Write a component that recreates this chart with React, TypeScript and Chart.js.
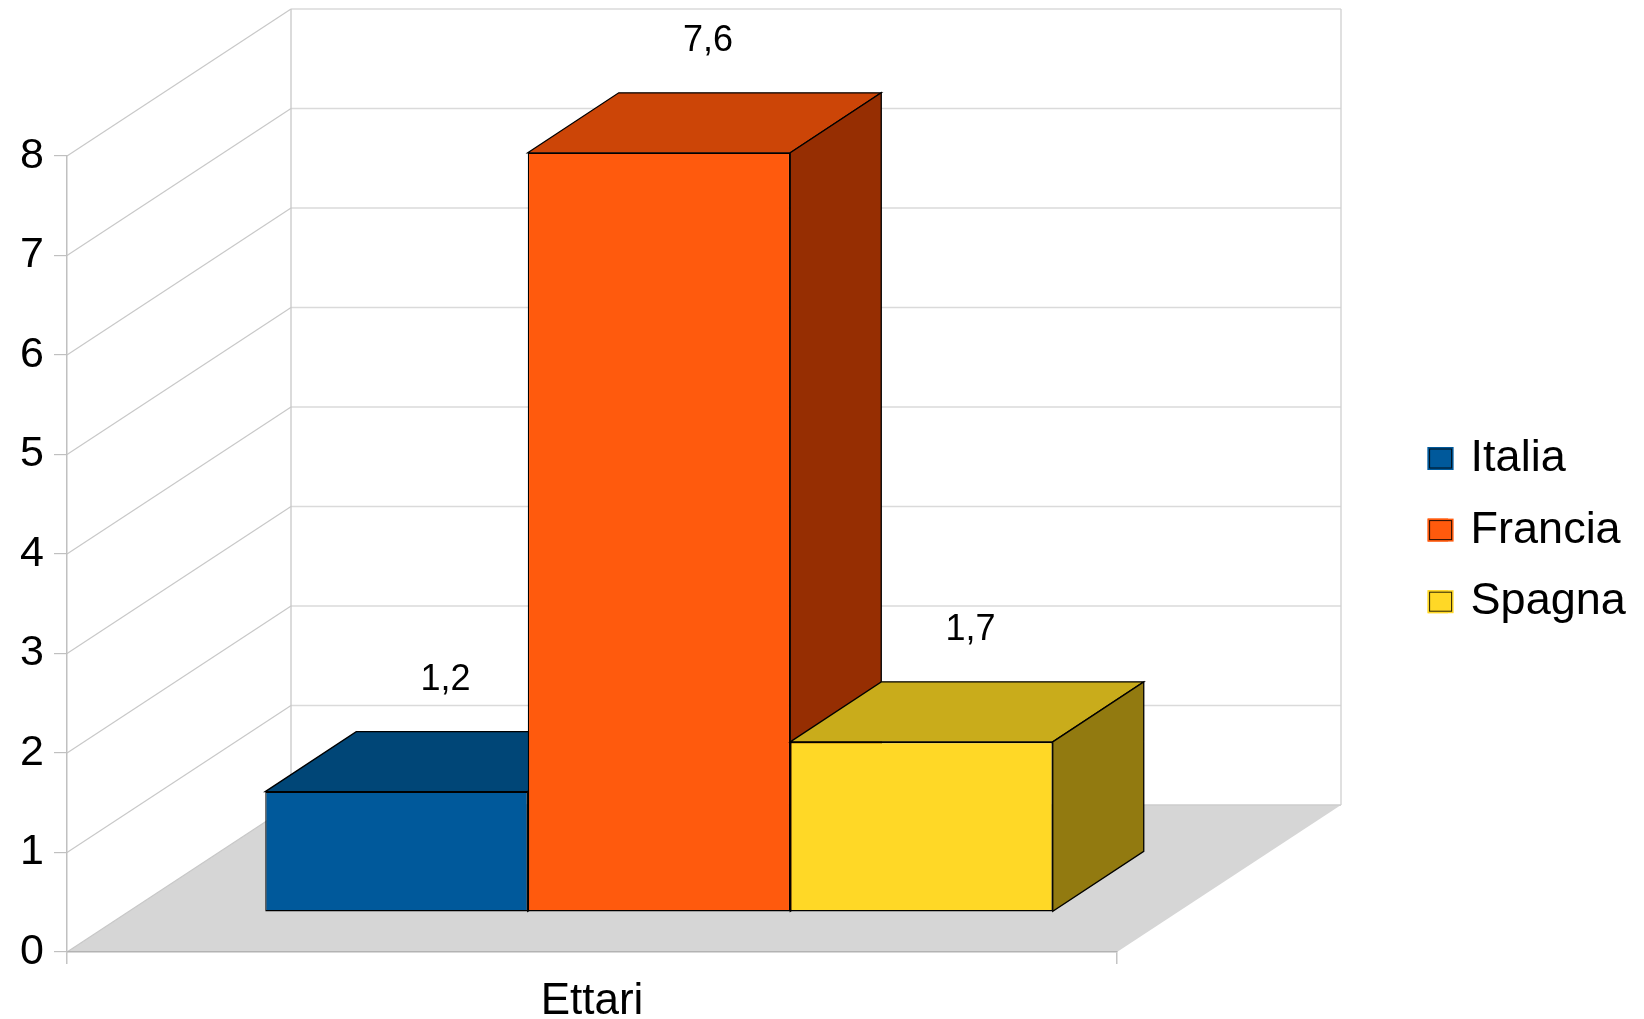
import React, { useEffect, useRef } from "react";
import { Chart, registerables } from "chart.js";

Chart.register(...registerables);

const categories = ["Ettari"];
const seriesNames = ["Italia", "Francia", "Spagna"];
const italiaValues = [1.21];
const franciaValues = [7.63];
const spagnaValues = [1.71];
const yTicks = [0, 1, 2, 3, 4, 5, 6, 7, 8];

const frontColors = ["#00599B", "#FF5A0D", "#FFD826"];
const topColors = ["#004677", "#CC4507", "#C9AC1B"];
const sideColors = ["#00365C", "#962E02", "#927A10"];

const FONT = '"Liberation Sans", Arial, sans-serif';
// floor depth, bar plane offset within the floor, bar depth
const WALL = { dx: 224, dy: -147 };
const PLANE = { dx: 67, dy: -40 };
const BAR = { dx: 91, dy: -60 };
const LEGEND = { left: 1401, top: 409.4, pad: 26.6, boxW: 26, nativeBoxW: 20.5, boxH: 23, fontSize: 45 };

function poly(ctx: CanvasRenderingContext2D, pts: number[][], fill?: string, stroke?: string, lw = 1) {
  ctx.beginPath();
  pts.forEach((p, i) => (i ? ctx.lineTo(p[0], p[1]) : ctx.moveTo(p[0], p[1])));
  ctx.closePath();
  if (fill) {
    ctx.fillStyle = fill;
    ctx.fill();
  }
  if (stroke) {
    ctx.strokeStyle = stroke;
    ctx.lineWidth = lw;
    ctx.stroke();
  }
}

function seg(ctx: CanvasRenderingContext2D, x0: number, y0: number, x1: number, y1: number, c: string, lw: number) {
  ctx.beginPath();
  ctx.moveTo(x0, y0);
  ctx.lineTo(x1, y1);
  ctx.strokeStyle = c;
  ctx.lineWidth = lw;
  ctx.stroke();
}

const box3d = {
  id: "box3d",
  afterLayout(chart: any) {
    const l = chart.legend;
    if (!l) return;
    l.left = LEGEND.left;
    l.top = LEGEND.top;
    l.right = 1644;
    l.bottom = 700;
    l.width = l.right - l.left;
    l.height = l.bottom - l.top;
  },
  beforeDraw(chart: any) {
    const { ctx, chartArea: a, scales } = chart;
    const y = scales.y;
    ctx.save();
    const y0 = y.getPixelForValue(0);
    const yMax = y.getPixelForValue(yTicks[yTicks.length - 1]);
    poly(ctx, [
      [a.left, y0],
      [a.right, y0],
      [a.right + WALL.dx, y0 + WALL.dy],
      [a.left + WALL.dx, y0 + WALL.dy],
    ], "#D6D6D6");
    yTicks.forEach((t) => {
      const p = y.getPixelForValue(t);
      seg(ctx, a.left + WALL.dx, p + WALL.dy, a.right + WALL.dx, p + WALL.dy, t === 0 ? "#CCCCCC" : "#DADADA", 1.5);
      seg(ctx, a.left, p, a.left + WALL.dx, p + WALL.dy, "#C8C8C8", 1.2);
    });
    seg(ctx, a.left + WALL.dx, yMax + WALL.dy, a.left + WALL.dx, y0 + WALL.dy, "#C8C8C8", 1.3);
    seg(ctx, a.right + WALL.dx, yMax + WALL.dy, a.right + WALL.dx, y0 + WALL.dy, "#CFCFCF", 1.3);
    ctx.restore();
  },
  // Bars are painted left to right below, so that each one overlaps the previous one.
  beforeDatasetDraw() {
    return false;
  },
  afterDatasetsDraw(chart: any) {
    const { ctx } = chart;
    chart.data.datasets.forEach((_: any, i: number) => {
      const meta = chart.getDatasetMeta(i);
      ctx.save();
      ctx.translate(PLANE.dx, PLANE.dy);
      meta.data.forEach((b: any) => {
        const l = b.x - b.width / 2;
        const r = b.x + b.width / 2;
        poly(ctx, [
          [l, b.y],
          [l + BAR.dx, b.y + BAR.dy],
          [r + BAR.dx, b.y + BAR.dy],
          [r, b.y],
        ], topColors[i], "#000000", 1.3);
        poly(ctx, [
          [r, b.y],
          [r + BAR.dx, b.y + BAR.dy],
          [r + BAR.dx, b.base + BAR.dy],
          [r, b.base],
        ], sideColors[i], "#000000", 1.3);
      });
      meta.controller.draw();
      ctx.restore();
    });
    ctx.save();
    ctx.font = `36px ${FONT}`;
    ctx.fillStyle = "#000000";
    ctx.textAlign = "center";
    ctx.textBaseline = "middle";
    chart.data.datasets.forEach((ds: any, i: number) => {
      chart.getDatasetMeta(i).data.forEach((b: any, j: number) => {
        const txt = ds.data[j].toFixed(1).replace(".", ",");
        ctx.fillText(txt, b.x + PLANE.dx + 49, b.y + PLANE.dy - 112);
      });
    });
    ctx.restore();
  },
  afterDraw(chart: any) {
    const l = chart.legend;
    if (!l) return;
    const { ctx } = chart;
    ctx.save();
    seriesNames.forEach((_, i) => {
      const left = l.left + LEGEND.pad;
      const top = l.top + LEGEND.pad + i * (LEGEND.fontSize + LEGEND.pad) + (LEGEND.fontSize - LEGEND.boxH) / 2;
      ctx.fillStyle = frontColors[i];
      ctx.fillRect(left, top, LEGEND.boxW, LEGEND.boxH);
      ctx.strokeStyle = "rgba(0,0,0,0.85)";
      ctx.lineWidth = 1;
      ctx.strokeRect(left + 2, top + 2, LEGEND.boxW - 4, LEGEND.boxH - 4);
    });
    ctx.restore();
  },
};

export default function App() {
  const ref = useRef<HTMLCanvasElement>(null);
  useEffect(() => {
    document.body.style.margin = "0";
    const seriesValues = [italiaValues, franciaValues, spagnaValues];
    const chart = new Chart(ref.current as HTMLCanvasElement, {
      type: "bar",
      data: {
        labels: categories,
        datasets: seriesNames.map((name, i) => ({
          label: name,
          data: seriesValues[i],
          backgroundColor: frontColors[i],
          borderColor: "#000000",
          borderWidth: 1.3,
          borderSkipped: false,
          categoryPercentage: 0.75,
          barPercentage: 1,
          clip: false,
        })),
      } as any,
      options: {
        animation: false,
        responsive: false,
        devicePixelRatio: 1,
        layout: { padding: { top: 156, right: 527, left: 0, bottom: 0 } },
        plugins: {
          tooltip: { enabled: false },
          legend: {
            position: "chartArea",
            align: "start",
            labels: {
              boxWidth: LEGEND.nativeBoxW,
              boxHeight: LEGEND.boxH,
              padding: LEGEND.pad,
              color: "#000000",
              font: { family: FONT, size: LEGEND.fontSize },
              generateLabels: () =>
                seriesNames.map((name, i) => ({
                  text: name,
                  fillStyle: frontColors[i],
                  strokeStyle: frontColors[i],
                  lineWidth: 0,
                  fontColor: "#000000",
                  datasetIndex: i,
                })),
            },
          },
        } as any,
        scales: {
          x: {
            afterFit: (s: any) => {
              s.height = 67;
            },
            border: { color: "#B3B3B3", width: 1.5 },
            grid: { display: true, drawOnChartArea: false, tickLength: 12, color: "#C4C4C4", offset: true, lineWidth: 1.5 },
            ticks: { color: "#000000", padding: 11, font: { family: FONT, size: 44 } },
          },
          y: {
            min: 0,
            max: 8,
            afterFit: (s: any) => {
              s.width = 67;
            },
            border: { color: "#C0C0C0", width: 1.5 },
            grid: { display: true, drawOnChartArea: false, tickLength: 13, color: "#C0C0C0", lineWidth: 1.2 },
            ticks: { color: "#000000", padding: 10, stepSize: 1, font: { family: FONT, size: 43 } },
          },
        },
      } as any,
      plugins: [box3d as any],
    });
    return () => chart.destroy();
  }, []);
  return <canvas ref={ref} width={1644} height={1019} style={{ display: "block", width: 1644, height: 1019 }} />;
}
